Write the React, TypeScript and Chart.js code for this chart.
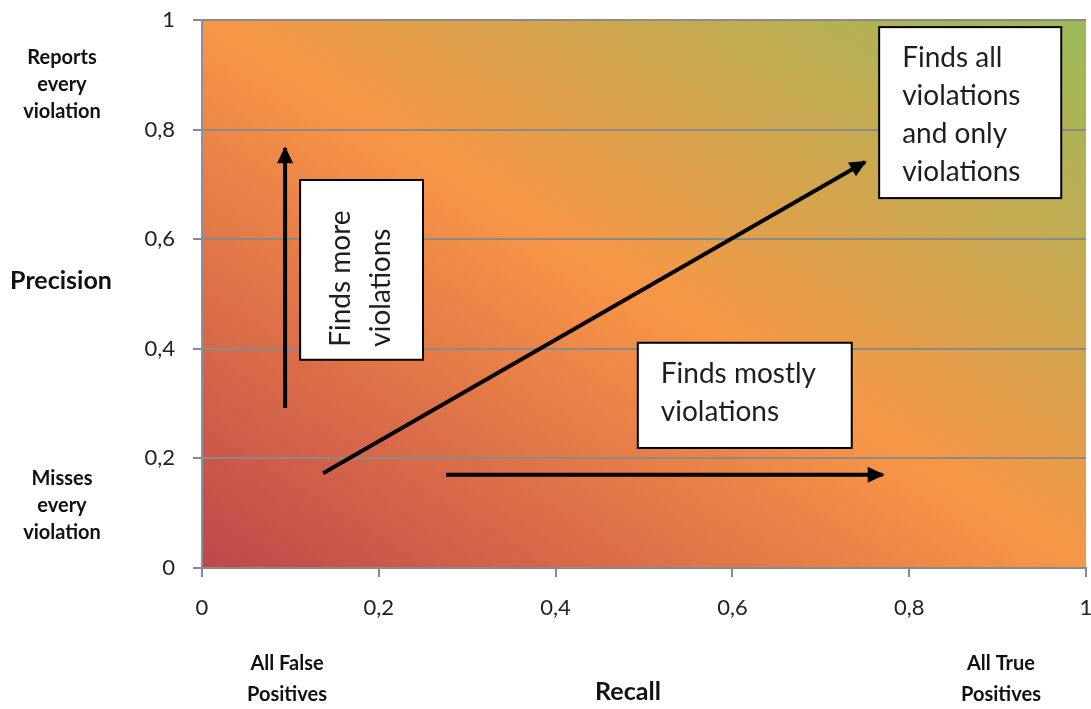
import { useEffect, useRef } from 'react';
import { Chart, registerables } from 'chart.js';

Chart.register(...registerables);

// ---- data ----
const AXIS_TICKS = [0, 0.2, 0.4, 0.6, 0.8, 1];
const X_TICK_LABELS = ['0', '0,2', '0,4', '0,6', '0,8', '1'];
const Y_TICK_LABELS = ['0', '0,2', '0,4', '0,6', '0,8', '1'];

const ARROW_NAMES = ['Finds more violations', 'Finds all violations', 'Finds mostly violations'];
const ARROW_X_START = [0.094, 0.137, 0.276];
const ARROW_Y_START = [0.292, 0.173, 0.17];
const ARROW_X_END = [0.094, 0.75, 0.77];
const ARROW_Y_END = [0.766, 0.741, 0.17];

const BOX_TEXTS = [
  ['Finds all', 'violations', 'and only', 'violations'],
  ['Finds more', 'violations'],
  ['Finds mostly', 'violations'],
];
const BOX_X0 = [0.766, 0.111, 0.493];
const BOX_X1 = [0.972, 0.25, 0.735];
const BOX_Y_TOP = [0.987, 0.708, 0.411];
const BOX_Y_BOTTOM = [0.675, 0.38, 0.219];
const BOX_VERTICAL = [false, true, false];

const Y_SIDE_TOP = ['Reports', 'every', 'violation'];
const Y_SIDE_BOTTOM = ['Misses', 'every', 'violation'];
const X_SIDE_LEFT = ['All False', 'Positives'];
const X_SIDE_RIGHT = ['All True', 'Positives'];
const Y_TITLE = 'Precision';
const X_TITLE = 'Recall';

const FONT = 'Lato, "Open Sans", sans-serif';

const decorPlugin = {
  id: 'decor',
  beforeDraw(chart: any) {
    const { ctx, chartArea: a } = chart;
    const W = a.right - a.left;
    const H = a.bottom - a.top;
    const cx = (a.left + a.right) / 2;
    const cy = (a.top + a.bottom) / 2;
    const L = Math.sqrt(W * W + H * H);
    const dx = H / L;
    const dy = -W / L;
    const p = (W * H) / L;
    const g = ctx.createLinearGradient(cx - dx * p, cy - dy * p, cx + dx * p, cy + dy * p);
    g.addColorStop(0, '#c0474a');
    g.addColorStop(0.5, '#f79646');
    g.addColorStop(1, '#9bbb59');
    ctx.save();
    ctx.fillStyle = g;
    ctx.fillRect(a.left, a.top, W, H);
    ctx.restore();
  },
  afterDatasetsDraw(chart: any) {
    const { ctx } = chart;
    const xs = chart.scales.x;
    const ys = chart.scales.y;
    ctx.save();
    // arrow heads
    chart.data.datasets.forEach((_ds: any, i: number) => {
      const pts = chart.getDatasetMeta(i).data;
      const p0 = pts[0];
      const p1 = pts[pts.length - 1];
      const ang = Math.atan2(p1.y - p0.y, p1.x - p0.x);
      const len = 17;
      const half = 8;
      const tx = p1.x + Math.cos(ang) * 2;
      const ty = p1.y + Math.sin(ang) * 2;
      ctx.beginPath();
      ctx.moveTo(tx, ty);
      ctx.lineTo(
        tx - Math.cos(ang) * len + Math.cos(ang + Math.PI / 2) * half,
        ty - Math.sin(ang) * len + Math.sin(ang + Math.PI / 2) * half
      );
      ctx.lineTo(
        tx - Math.cos(ang) * len - Math.cos(ang + Math.PI / 2) * half,
        ty - Math.sin(ang) * len - Math.sin(ang + Math.PI / 2) * half
      );
      ctx.closePath();
      ctx.fillStyle = '#000';
      ctx.fill();
    });
    // boxes
    BOX_TEXTS.forEach((lines, i) => {
      const l = xs.getPixelForValue(BOX_X0[i]);
      const r = xs.getPixelForValue(BOX_X1[i]);
      const t = ys.getPixelForValue(BOX_Y_TOP[i]);
      const b = ys.getPixelForValue(BOX_Y_BOTTOM[i]);
      ctx.fillStyle = '#ffffff';
      ctx.fillRect(l, t, r - l, b - t);
      ctx.strokeStyle = '#000';
      ctx.lineWidth = 2;
      ctx.strokeRect(l, t, r - l, b - t);
      ctx.fillStyle = '#1e1e1e';
      ctx.font = `28px ${FONT}`;
      ctx.textBaseline = 'middle';
      ctx.textAlign = 'left';
      if (BOX_VERTICAL[i]) {
        lines.forEach((s, k) => {
          ctx.save();
          ctx.translate(l + 41 + k * 40, b - 13);
          ctx.rotate(-Math.PI / 2);
          ctx.fillText(s, 0, 0);
          ctx.restore();
        });
      } else {
        lines.forEach((s, k) => {
          ctx.fillText(s, l + 23, t + 31 + k * 38);
        });
      }
    });
    ctx.restore();
  },
  afterDraw(chart: any) {
    const { ctx } = chart;
    ctx.save();
    ctx.fillStyle = '#111';
    ctx.textAlign = 'center';
    ctx.textBaseline = 'middle';
    ctx.font = `bold 20px ${FONT}`;
    Y_SIDE_TOP.forEach((s, k) => ctx.fillText(s, 62, 58 + k * 27));
    Y_SIDE_BOTTOM.forEach((s, k) => ctx.fillText(s, 62, 479 + k * 27));
    X_SIDE_LEFT.forEach((s, k) => ctx.fillText(s, 287, 664 + k * 31));
    X_SIDE_RIGHT.forEach((s, k) => ctx.fillText(s, 1001, 664 + k * 31));
    ctx.font = `bold 25px ${FONT}`;
    ctx.fillText(Y_TITLE, 61, 281);
    ctx.fillText(X_TITLE, 628, 692);
    ctx.restore();
  },
};

export default function App() {
  const ref = useRef<HTMLCanvasElement | null>(null);
  useEffect(() => {
    if (!ref.current) return;
    const datasets = ARROW_NAMES.map((name, i) => ({
      label: name,
      data: [
        { x: ARROW_X_START[i], y: ARROW_Y_START[i] },
        { x: ARROW_X_END[i], y: ARROW_Y_END[i] },
      ],
      showLine: true,
      borderColor: '#000',
      borderWidth: 4,
      pointRadius: 0,
      pointHoverRadius: 0,
      borderCapStyle: 'butt',
    }));
    const chart = new Chart(ref.current, {
      type: 'scatter',
      data: { datasets } as any,
      options: {
        animation: false,
        responsive: false,
        layout: { padding: { top: 20, right: 5, left: 0, bottom: 0 } },
        plugins: { legend: { display: false }, tooltip: { enabled: false } },
        scales: {
          x: {
            type: 'linear',
            min: 0,
            max: 1,
            afterBuildTicks: (s: any) => {
              s.ticks = AXIS_TICKS.map((v) => ({ value: v }));
            },
            afterFit: (s: any) => {
              s.height = 141;
              s.paddingLeft = 0;
              s.paddingRight = 0;
            },
            ticks: {
              callback: (_v: any, i: number) => X_TICK_LABELS[i],
              font: { family: FONT, size: 22 },
              color: '#222',
              padding: 18,
              maxRotation: 0,
              autoSkip: false,
            },
            grid: {
              drawOnChartArea: false,
              drawTicks: true,
              tickLength: 9,
              color: '#8a8a8a',
              lineWidth: 2,
            },
            border: { display: true, color: '#8a8a8a', width: 2 },
          },
          y: {
            type: 'linear',
            min: 0,
            max: 1,
            afterBuildTicks: (s: any) => {
              s.ticks = AXIS_TICKS.map((v) => ({ value: v }));
            },
            afterFit: (s: any) => {
              s.width = 202;
              s.paddingTop = 0;
              s.paddingBottom = 0;
            },
            ticks: {
              callback: (_v: any, i: number) => Y_TICK_LABELS[i],
              font: { family: FONT, size: 22 },
              color: '#222',
              padding: 18,
              autoSkip: false,
            },
            grid: {
              drawOnChartArea: true,
              drawTicks: true,
              tickLength: 9,
              color: '#8a8a8a',
              lineWidth: 2,
            },
            border: { display: true, color: '#8a90a0', width: 2 },
          },
        },
      },
      plugins: [decorPlugin],
    } as any);
    return () => chart.destroy();
  }, []);
  return (
    <div style={{ position: 'absolute', left: 0, top: 0, width: 1091, height: 709 }}>
      <canvas ref={ref} width={1091} height={709} style={{ width: 1091, height: 709, display: 'block' }} />
    </div>
  );
}
